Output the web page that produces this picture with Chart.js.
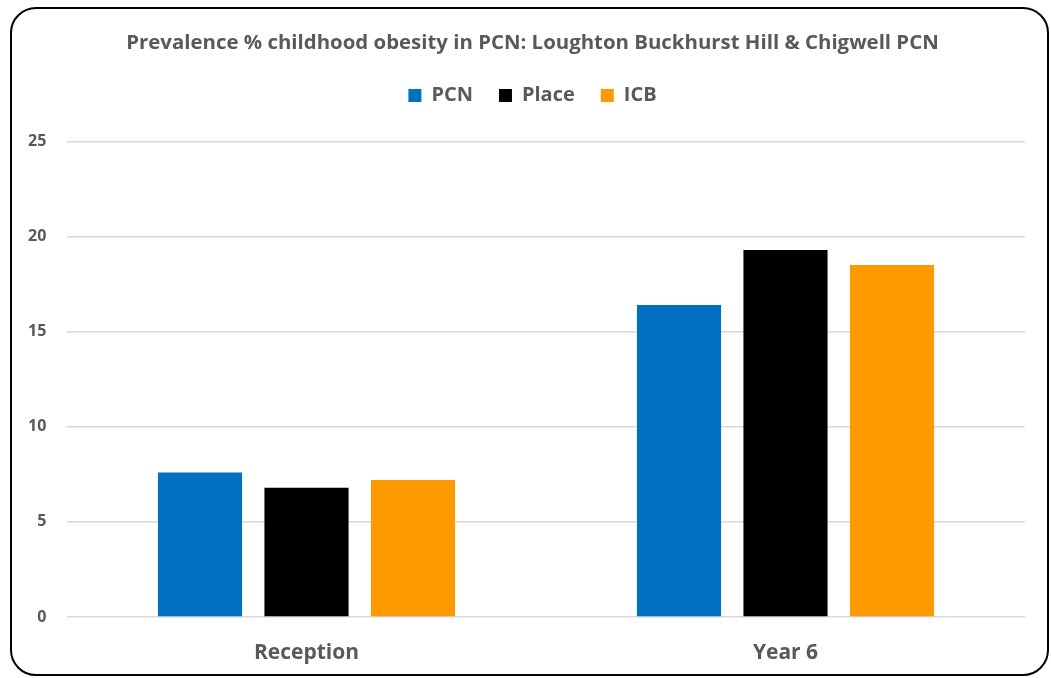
<!DOCTYPE html>
<html><head><meta charset="utf-8">
<script src="https://cdn.jsdelivr.net/npm/chart.js@4"></script>
<style>
html,body{margin:0;padding:0;background:#fff;}
#frame{position:absolute;left:10px;top:7px;width:1035px;height:665px;border:2px solid #000;border-radius:26px;}
#wrap{position:absolute;left:0;top:0;width:1051px;height:678px;}
</style></head>
<body>
<div id="frame"></div>
<div id="wrap"><canvas id="c" width="1051" height="678"></canvas></div>
<script>
const categories = ["Reception", "Year 6"];
const pcnValues = [7.6, 16.4];
const placeValues = [6.8, 19.3];
const icbValues = [7.2, 18.5];
const seriesNames = ["PCN", "Place", "ICB"];
const seriesColors = ["#0070C0", "#000000", "#FF9900"];
const yTicks = [0, 5, 10, 15, 20, 25];
const titleText = "Prevalence % childhood obesity in PCN: Loughton Buckhurst Hill & Chigwell PCN";

const FONT = "'Open Sans', 'Liberation Sans', sans-serif";
const GREY = "#595959";

new Chart(document.getElementById('c'), {
  type: 'bar',
  data: {
    labels: categories,
    datasets: [pcnValues, placeValues, icbValues].map((d, i) => ({
      label: seriesNames[i],
      data: d,
      backgroundColor: seriesColors[i],
      borderWidth: 0,
      categoryPercentage: 0.667,
      barPercentage: 0.79
    }))
  },
  options: {
    responsive: false,
    animation: false,
    layout: { padding: { left: 40, right: 26, top: 10, bottom: 0 } },
    plugins: {
      title: {
        display: true, text: titleText, color: GREY,
        font: { family: FONT, size: 20.4, weight: 'bold' },
        padding: { top: 21, bottom: 4 }
      },
      subtitle: {
        display: true, text: '', weight: 500, position: 'top',
        font: { size: 10 }, padding: { top: 0, bottom: 14 }
      },
      legend: {
        display: true, position: 'top',
        labels: {
          color: GREY, boxWidth: 13, boxHeight: 13, padding: 26,
          font: { family: FONT, size: 20, weight: 'bold' }
        }
      },
      tooltip: { enabled: false }
    },
    scales: {
      x: {
        afterFit: s => { s.height = 61; },
        grid: { display: false },
        border: { display: false },
        ticks: { color: GREY, font: { family: FONT, size: 21, weight: 'bold' }, padding: 15 }
      },
      y: {
        min: 0, max: 25,
        afterBuildTicks: s => { s.ticks = yTicks.map(v => ({ value: v })); },
        afterFit: s => { s.width = 27; },
        grid: { color: '#D9D9D9', lineWidth: 1.5, drawTicks: false },
        border: { display: false },
        ticks: { color: GREY, font: { family: FONT, size: 16, weight: 'bold' },
                 mirror: true, crossAlign: 'far', padding: -39 }
      }
    }
  }
});
</script>
</body></html>
